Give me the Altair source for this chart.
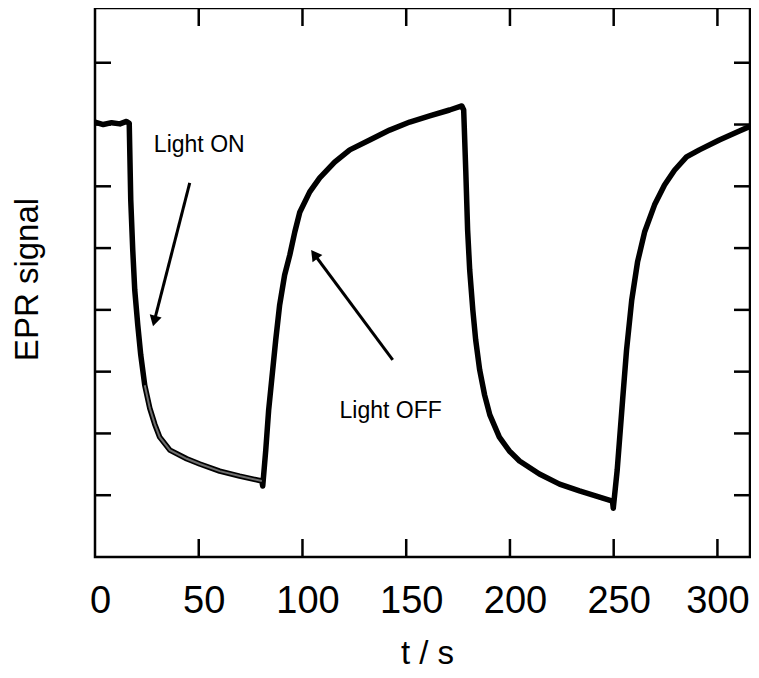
import altair as alt
import pandas as pd

# ---- data ----
trace_t = [0, 4, 8, 12, 15.2, 16.5, 17.23, 18.19, 19.16, 20.6, 22.05, 23.98, 26.39, 28.8, 31.2, 36.1, 44.2,
           50.5, 60.1, 69.7, 80.4,
           80.84, 82.3, 83.7, 85.16, 87.1, 89.0, 91.4, 93.9, 96.3, 98.7, 103.5, 108.3, 115.5, 122.8, 132.4,
           142.0, 151.7, 161.3, 170.9, 176.8,
           177.7, 178.7, 179.6, 180.6, 182.1, 183.5, 185.4, 187.8, 190.3, 194.9, 199.7, 204.6, 214.2, 223.9,
           233.5, 243.2, 249.4,
           249.8, 251.7, 254.3, 256.2, 258.7, 261.5, 264.9, 269.7, 274.5, 279.3, 285.1, 291.3, 300.9, 310.6, 315.7]
trace_v = [7.04, 7.00, 7.03, 7.01, 7.05, 7.02, 5.78, 4.97, 4.32, 3.76, 3.27, 2.78, 2.41, 2.15, 1.94, 1.73, 1.59,
           1.505, 1.39, 1.31, 1.23,
           1.149, 1.73, 2.38, 2.865, 3.51, 4.08, 4.565, 4.89, 5.26, 5.58, 5.91, 6.135, 6.39, 6.59, 6.75,
           6.91, 7.04, 7.14, 7.235, 7.30,
           7.235, 6.26, 5.29, 4.645, 4.0, 3.51, 3.03, 2.62, 2.30, 1.94, 1.716, 1.554, 1.343, 1.18,
           1.07, 0.97, 0.906,
           0.79, 1.41, 2.54, 3.35, 4.16, 4.775, 5.26, 5.70, 6.02, 6.26, 6.475, 6.59, 6.75, 6.895, 6.97]

fit_t = [23.98, 26.39, 28.8, 31.2, 36.1, 44.2, 50.5, 60.1, 69.7, 80.4]
fit_v = [2.78, 2.41, 2.15, 1.94, 1.73, 1.59, 1.505, 1.39, 1.31, 1.23]

x_tick_values = [0, 50, 100, 150, 200, 250, 300]
y_tick_values = [1, 2, 3, 4, 5, 6, 7, 8]

label_text = ["Light ON", "Light OFF"]
label_t = [50.24, 142.5]
label_v = [6.556, 2.25]

arrow_t0 = [45.66, 143.5]
arrow_v0 = [6.054, 3.189]
arrow_t1 = [28.6, 105.7]
arrow_v1 = [3.82, 4.90]
arrow_angle = [194.4, 323.5]

W, H = 655, 549
FONT = "Liberation Sans"

trace = pd.DataFrame({"t": trace_t, "v": trace_v})
fit = pd.DataFrame({"t": fit_t, "v": fit_v})
xt = pd.DataFrame({"t": x_tick_values[1:]})
yt = pd.DataFrame({"v": y_tick_values})
labels = pd.DataFrame({"text": label_text, "t": label_t, "v": label_v})
arrows = pd.DataFrame({"t0": arrow_t0, "v0": arrow_v0, "t1": arrow_t1, "v1": arrow_v1, "ang": arrow_angle})

xs = alt.Scale(domain=[0, 315.7], nice=False, zero=False)
ys = alt.Scale(domain=[0, 8.886], nice=False, zero=False)

xaxis = alt.Axis(values=x_tick_values, ticks=False, tickSize=0, domain=False, grid=False,
                 labelFontSize=38, labelFont=FONT, labelPadding=25,
                 labelOffset={"expr": "datum.value >= 300 ? 0 : 5"}, labelFlush=False,
                 labelColor="black", title="t / s", titleFontSize=33, titleFont=FONT,
                 titleFontWeight="normal", titleColor="black", titleBaseline="alphabetic",
                 titleY=106, titleX=332)
yaxis = alt.Axis(labels=False, ticks=False, tickSize=0, domain=False, grid=False,
                 title="EPR signal", titleFontSize=33, titleFont=FONT, titleFontWeight="normal",
                 titleColor="black", titleBaseline="alphabetic", titleX=-58, titleY=271, titleAngle=270)

line = alt.Chart(trace).mark_line(color="black", strokeWidth=5.5, strokeJoin="round").encode(
    x=alt.X("t:Q", scale=xs, axis=xaxis),
    y=alt.Y("v:Q", scale=ys, axis=yaxis),
)
fitline = alt.Chart(fit).mark_line(color="#6e6e6e", strokeWidth=2).encode(
    x=alt.X("t:Q", scale=xs), y=alt.Y("v:Q", scale=ys))

xb = alt.Chart(xt).mark_rule(color="black", strokeWidth=2.5).encode(
    x=alt.X("t:Q", scale=xs), y=alt.value(H), y2=alt.value(H - 18))
xtop = alt.Chart(xt).mark_rule(color="black", strokeWidth=2.5).encode(
    x=alt.X("t:Q", scale=xs), y=alt.value(0), y2=alt.value(18))
yl = alt.Chart(yt).mark_rule(color="black", strokeWidth=2.5).encode(
    y=alt.Y("v:Q", scale=ys), x=alt.value(0), x2=alt.value(16))
yr = alt.Chart(yt).mark_rule(color="black", strokeWidth=2.5).encode(
    y=alt.Y("v:Q", scale=ys), x=alt.value(W), x2=alt.value(W - 16))

arrow_lines = alt.Chart(arrows).mark_rule(color="black", strokeWidth=3).encode(
    x=alt.X("t0:Q", scale=xs), y=alt.Y("v0:Q", scale=ys), x2="t1:Q", y2="v1:Q")
arrow_heads = alt.Chart(arrows).mark_point(shape="triangle-up", filled=True, color="black",
                                           size=150, opacity=1).encode(
    x=alt.X("t1:Q", scale=xs), y=alt.Y("v1:Q", scale=ys), angle=alt.Angle("ang:Q", scale=None))

texts = alt.Chart(labels).mark_text(font=FONT, fontSize=23, color="black", align="center",
                                    baseline="alphabetic").encode(
    x=alt.X("t:Q", scale=xs), y=alt.Y("v:Q", scale=ys), text="text:N")

chart = alt.layer(line, fitline, xb, xtop, yl, yr, arrow_lines, arrow_heads, texts).properties(
    width=W, height=H,
    background="white",
    autosize=alt.AutoSizeParams(type="none"),
    padding={"left": 87, "top": 0, "right": 1, "bottom": 112},
).configure_view(stroke="black", strokeWidth=2.5)

chart.save("out.html", embed_options={"renderer": "svg", "actions": False})
